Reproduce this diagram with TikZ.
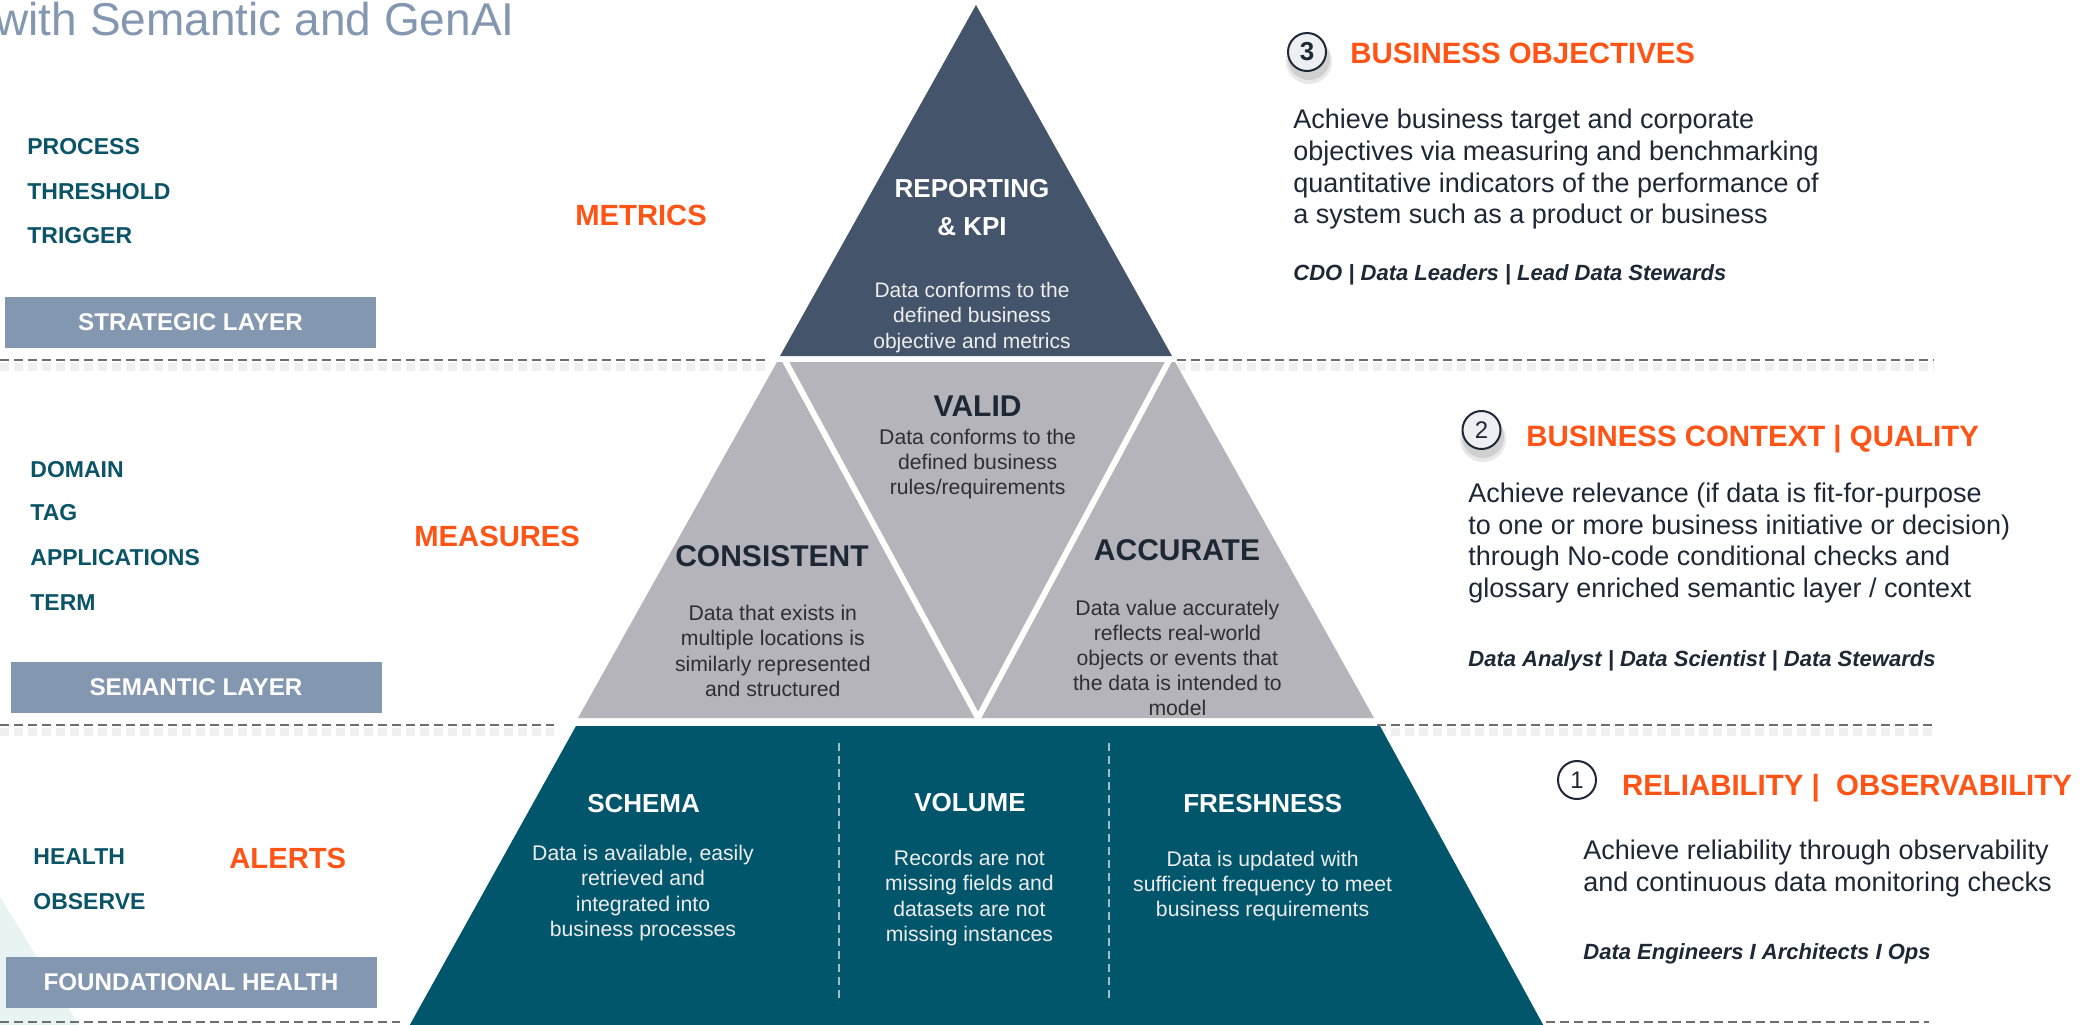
\documentclass[tikz,border=0pt]{standalone}
\usepackage{fontspec}
\setmainfont{Liberation Sans}
\definecolor{slate}{HTML}{44546A}
\definecolor{midgray}{HTML}{B4B4BA}
\definecolor{pyrteal}{HTML}{02566C}
\definecolor{boxblue}{HTML}{8497B0}
\definecolor{labteal}{HTML}{0B5468}
\definecolor{accent}{HTML}{FF5416}
\definecolor{darktext}{HTML}{1E2835}
\definecolor{bodygray}{HTML}{2E2E33}
\definecolor{dashgray}{HTML}{6E6E6E}
\definecolor{palecyan}{HTML}{E8F4F3}
\definecolor{circfill}{HTML}{EEEFF3}
\tikzset{
  labl/.style={anchor=base west, inner sep=0, text=labteal, font=\fontsize{11.5}{13}\selectfont\bfseries},
  acc/.style={anchor=base west, inner sep=0, text=accent, font=\fontsize{14.6}{17}\selectfont\bfseries},
  layerbox/.style={fill=boxblue, inner sep=0, text=white, minimum width=185.5pt, minimum height=25.5pt, font=\fontsize{12.1}{14}\selectfont\bfseries},
  heading/.style={anchor=base west, inner sep=0, text=accent, font=\fontsize{14.7}{17}\selectfont\bfseries},
  para/.style={anchor=north west, inner sep=0, align=left, text=darktext},
  role/.style={anchor=base west, inner sep=0, text=darktext, font=\fontsize{11}{13}\selectfont\bfseries\itshape},
  numcirc/.style={circle, draw=darktext, line width=1pt, minimum size=19pt, inner sep=0, text=darktext},
  gtitle/.style={anchor=base, inner sep=0, text=darktext, font=\fontsize{15}{18}\selectfont\bfseries},
  gbody/.style={anchor=north, inner sep=0, align=center, text=bodygray},
  wtitle/.style={anchor=base, inner sep=0, text=white, font=\fontsize{13}{16}\selectfont\bfseries},
  wbody/.style={anchor=north, inner sep=0, align=center, text=white!93!black},
  sepline/.style={dashgray, line width=1pt, dash pattern=on 4.5pt off 2.5pt},
  sepshadow/.style={black!6, line width=4pt, dash pattern=on 4.5pt off 2.5pt},
  vdash/.style={white!62!pyrteal, line width=0.7pt, dash pattern=on 4pt off 2.5pt}
}
\begin{document}
\begin{tikzpicture}[x=0.5pt,y=-0.5pt]
\useasboundingbox (0,0) rectangle (2100,1024);
\clip (0,0) rectangle (2100,1024);
\fill[white] (0,0) rectangle (2100,1024);

% pale decorative corner
\fill[palecyan] (0,897) -- (82,1030) -- (0,1030) -- cycle;

% title
\node[anchor=base east, inner sep=0, text=boxblue, font=\fontsize{23}{26}\selectfont] (title) at (515,35) {with Semantic and GenAI};

% separator lines with soft shadow
\foreach \xa/\xb/\yy in {0/768/360, 1177/1934/360, 0/554/725, 1377/1932/725, 0/400/1022, 1546/1929/1022}{
  \draw[sepshadow] (\xa,\yy+7) -- (\xb,\yy+7);
  \draw[sepline] (\xa,\yy) -- (\xb,\yy);
}

% pyramid: top
\fill[slate] (976,5) -- (1172,356) -- (780,356) -- cycle;
% middle band
\path[fill=midgray] (777,362) -- (1175,362) -- (1374,718) -- (578,718) -- cycle;
\begin{scope}
  \clip (777,362) -- (1175,362) -- (1374,718) -- (578,718) -- cycle;
  \draw[white, line width=3pt, line join=miter] (782,355) -- (978,718) -- (1172,355);
\end{scope}
% bottom band
\fill[pyrteal] (576,726) -- (1380,726) -- (1546,1030) -- (407,1030) -- cycle;
\coordinate (d1t) at (839,743); \coordinate (d1b) at (839,1003);
\coordinate (d2t) at (1109,743); \coordinate (d2b) at (1109,1003);
\draw[vdash] (d1t) -- (d1b);
\draw[vdash] (d2t) -- (d2b);

% left labels
\node[labl] (process) at (27,154) {PROCESS};
\node[labl] (threshold) at (27,199) {THRESHOLD};
\node[labl] (trigger) at (27,243) {TRIGGER};
\node[labl] (domain) at (30,477) {DOMAIN};
\node[labl] (tag) at (30,520) {TAG};
\node[labl] (apps) at (30,565) {APPLICATIONS};
\node[labl] (term) at (30,610) {TERM};
\node[labl] (health) at (33,864) {HEALTH};
\node[labl] (observe) at (33,909) {OBSERVE};

\node[acc] (metrics) at (575,225) {METRICS};
\node[acc] (measures) at (414,546) {MEASURES};
\node[acc] (alerts) at (229,868) {ALERTS};

\node[layerbox] (strat) at (190.5,322) {STRATEGIC LAYER};
\node[layerbox] (sem) at (196,687.5) {SEMANTIC LAYER};
\node[layerbox] (found) at (191,982.5) {FOUNDATIONAL HEALTH};

% pyramid texts
\node[wtitle, anchor=north, align=center, font=\fontsize{13}{18.9}\selectfont\bfseries] (kpi) at (972,178.7) {REPORTING\\\& KPI};
\node[wbody, font=\fontsize{10.5}{12.85}\selectfont] (kpibody) at (972,281.6) {Data conforms to the\\defined business\\objective and metrics};

\node[gtitle] (valid) at (977.6,416) {VALID};
\node[gbody, font=\fontsize{10.6}{12.5}\selectfont] (validbody) at (977.6,428.7) {Data conforms to the\\defined business\\rules/requirements};
\node[gtitle] (consistent) at (772,566.7) {CONSISTENT};
\node[gbody, font=\fontsize{10.6}{12.65}\selectfont] (consbody) at (772.8,604.7) {Data that exists in\\multiple locations is\\similarly represented\\and structured};
\node[gtitle] (accurate) at (1177,560) {ACCURATE};
\node[gbody, font=\fontsize{10.6}{12.5}\selectfont] (accbody) at (1177.4,599.7) {Data value accurately\\reflects real-world\\objects or events that\\the data is intended to\\model};

\node[wtitle] (schema) at (643.6,812.7) {SCHEMA};
\node[wbody, font=\fontsize{10.6}{12.65}\selectfont] (schemabody) at (643,844.7) {Data is available, easily\\retrieved and\\integrated into\\business processes};
\node[wtitle] (volume) at (970,811) {VOLUME};
\node[wbody, font=\fontsize{10.6}{12.65}\selectfont] (volbody) at (969.4,849.7) {Records are not\\missing fields and\\datasets are not\\missing instances};
\node[wtitle] (fresh) at (1262.7,812.7) {FRESHNESS};
\node[wbody, font=\fontsize{10.6}{12.65}\selectfont] (freshbody) at (1262.6,850.4) {Data is updated with\\sufficient frequency to meet\\business requirements};

% right side: objectives
\fill[black!35, opacity=0.35] (1309,59) circle (21);
\fill[black!35, opacity=0.25] (1309,61) circle (23);
\node[numcirc, fill=circfill, font=\fontsize{13}{15}\selectfont\bfseries] (c3) at (1307,52) {3};
\node[heading] (h3) at (1350,63.3) {BUSINESS OBJECTIVES};
\node[para, font=\fontsize{13.5}{15.8}\selectfont] (p3) at (1293,108.9) {Achieve business target and corporate\\objectives via measuring and benchmarking\\quantitative indicators of the performance of\\a system such as a product or business};
\node[role] (r3) at (1293,280) {CDO | Data Leaders | Lead Data Stewards};

\fill[black!35, opacity=0.35] (1483,437) circle (21);
\fill[black!35, opacity=0.25] (1483,439) circle (23);
\node[numcirc, fill=circfill, font=\fontsize{12}{14}\selectfont] (c2) at (1481.5,430) {2};
\node[heading] (h2) at (1526,446) {BUSINESS CONTEXT | QUALITY};
\node[para, font=\fontsize{13.5}{15.9}\selectfont] (p2) at (1468,482.3) {Achieve relevance (if data is fit-for-purpose\\to one or more business initiative or decision)\\through No-code conditional checks and\\glossary enriched semantic layer / context};
\node[role] (r2) at (1468,666) {Data Analyst | Data Scientist | Data Stewards};

\node[numcirc, fill=white, font=\fontsize{12}{14}\selectfont] (c1) at (1577,780) {1};
\node[heading] (h1) at (1621.7,795) {RELIABILITY |\ \ OBSERVABILITY};
\node[para, font=\fontsize{13.5}{15.7}\selectfont] (p1) at (1583,839.9) {Achieve reliability through observability\\and continuous data monitoring checks};
\node[role] (r1) at (1583,959) {Data Engineers I Architects I Ops};
\end{tikzpicture}
\end{document}
